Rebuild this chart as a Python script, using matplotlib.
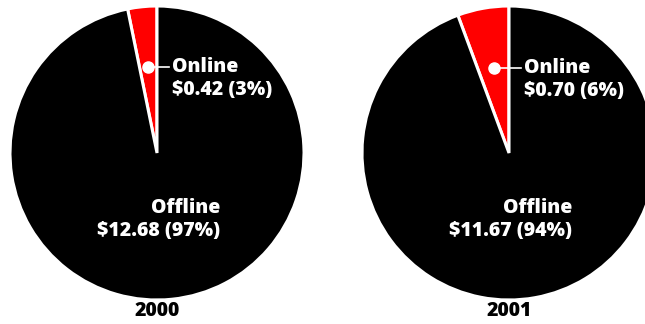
import matplotlib
matplotlib.use("Agg")
import matplotlib.pyplot as plt
import numpy as np

# --- Data ---
years = ["2000", "2001"]
online = [0.42, 0.70]
offline = [12.68, 11.67]
online_pct = [3, 6]
offline_pct = [97, 94]

plt.rcParams['font.family'] = ['Open Sans', 'DejaVu Sans']

W, H = 645, 324
fig = plt.figure(figsize=(W / 100, H / 100), dpi=100)
ax = fig.add_axes([0, 0, 1, 1])
ax.set_xlim(0, W)
ax.set_ylim(0, H)
ax.set_aspect('equal')
ax.axis('off')

centers = [(157, H - 153), (509, H - 153)]
radius = 147
fs = 14

for i, (cx, cy) in enumerate(centers):
    vals = [online[i], offline[i]]
    ax.pie(vals, center=(cx, cy), radius=radius, startangle=90,
           counterclock=True, colors=['#ff0000', '#000000'],
           wedgeprops=dict(edgecolor='white', linewidth=2.2),
           frame=True)

    # marker dot at the middle of the online wedge
    frac = online[i] / (online[i] + offline[i])
    ang = np.deg2rad(90 + 360 * frac / 2)
    dx = cx + 0.59 * radius * np.cos(ang)
    dy = cy + 0.59 * radius * np.sin(ang)
    ax.plot([dx, cx + 12], [dy, dy], color='white', lw=1.2, zorder=5)
    ax.plot(dx, dy, 'o', color='white', ms=8, zorder=6)

    ax.text(cx + 15, dy, "Online", color='white', fontsize=fs,
            fontweight='heavy', ha='left', va='center', zorder=7)
    ax.text(cx + 15, dy - 23, f"${online[i]:.2f} ({online_pct[i]}%)",
            color='white', fontsize=fs, fontweight='heavy',
            ha='left', va='center', zorder=7)

    ax.text(cx + 63, H - 208, "Offline", color='white', fontsize=fs,
            fontweight='heavy', ha='right', va='center', zorder=7)
    ax.text(cx + 63, H - 231, f"${offline[i]:.2f} ({offline_pct[i]}%)",
            color='white', fontsize=fs, fontweight='heavy',
            ha='right', va='center', zorder=7)

    ax.text(cx, H - 311, years[i], color='black', fontsize=fs,
            fontweight='heavy', ha='center', va='center')

ax.set_xlim(0, W)
ax.set_ylim(0, H)
ax.axis('off')

fig.savefig("out.png", dpi=100, facecolor='white')
